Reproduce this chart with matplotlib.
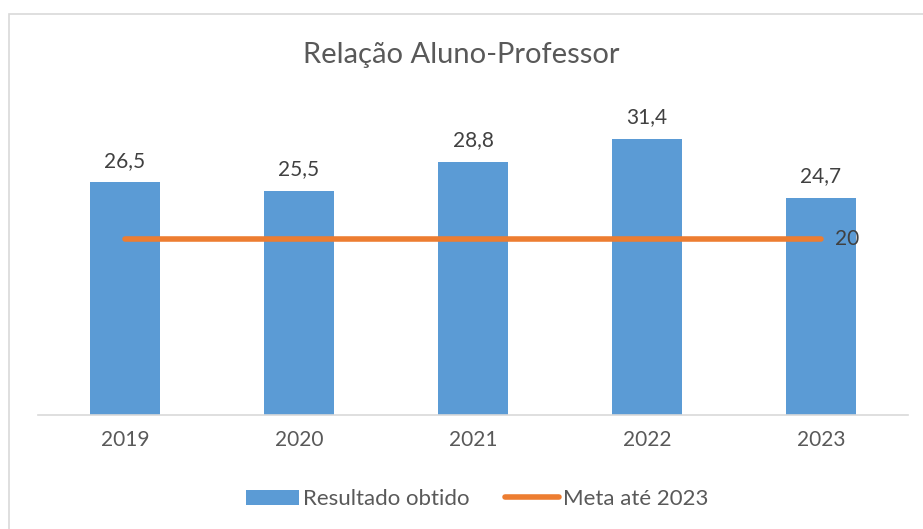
import matplotlib.pyplot as plt
from matplotlib.patches import Rectangle

anos = ["2019", "2020", "2021", "2022", "2023"]
resultado = [26.5, 25.5, 28.8, 31.4, 24.7]
meta = [20, 20, 20, 20, 20]

azul = "#5B9BD5"
laranja = "#ED7D31"
cinza = "#595959"

plt.rcParams["font.family"] = ["Lato", "DejaVu Sans"]

fig = plt.figure(figsize=(9.23, 5.29), dpi=100)
# moldura do gráfico (cortada à direita e embaixo)
fig.patches.append(Rectangle((9 / 923, -0.1), 1.0, 1 - 14 / 529 + 0.1,
                             transform=fig.transFigure, fill=False,
                             edgecolor="#D9D9D9", linewidth=1.2))

ax = fig.add_axes([38 / 923, 114 / 529, 870 / 923, 308 / 529])
x = list(range(len(anos)))
barras = ax.bar(x, resultado, width=0.402, color=azul, label="Resultado obtido", zorder=2)
linha, = ax.plot(x, meta, color=laranja, linewidth=4, solid_capstyle="round",
                 label="Meta até 2023", zorder=3)

for xi, v in zip(x, resultado):
    ax.annotate(f"{v:.1f}".replace(".", ","), (xi, v), xytext=(0, 8),
                textcoords="offset points", ha="center", va="bottom",
                fontsize=15, color="#404040")
ax.annotate(str(meta[-1]), (x[-1], meta[-1]), xytext=(10, 0),
            textcoords="offset points", ha="left", va="center",
            fontsize=15, color="#404040")

ax.set_xlim(-0.5, len(anos) - 0.5)
ax.set_ylim(0, 35)
ax.set_xticks(x)
ax.set_xticklabels(anos, fontsize=15, color=cinza)
ax.tick_params(axis="x", length=0, pad=11)
ax.set_yticks([])
for s in ["left", "right", "top"]:
    ax.spines[s].set_visible(False)
ax.spines["bottom"].set_color("#D9D9D9")
ax.spines["bottom"].set_linewidth(1.2)

fig.text(0.5, 1 - 55 / 529, "Relação Aluno-Professor", ha="center", va="center",
         fontsize=21, color=cinza)

leg = fig.legend([barras, linha], ["Resultado obtido", "Meta até 2023"],
                 loc="center", bbox_to_anchor=(477 / 923, 1 - 499 / 529), ncol=2,
                 frameon=False, fontsize=16, handlelength=2.4, handleheight=0.65,
                 handletextpad=0.2, columnspacing=1.6)
for t in leg.get_texts():
    t.set_color(cinza)

fig.savefig("out.png", dpi=100)
